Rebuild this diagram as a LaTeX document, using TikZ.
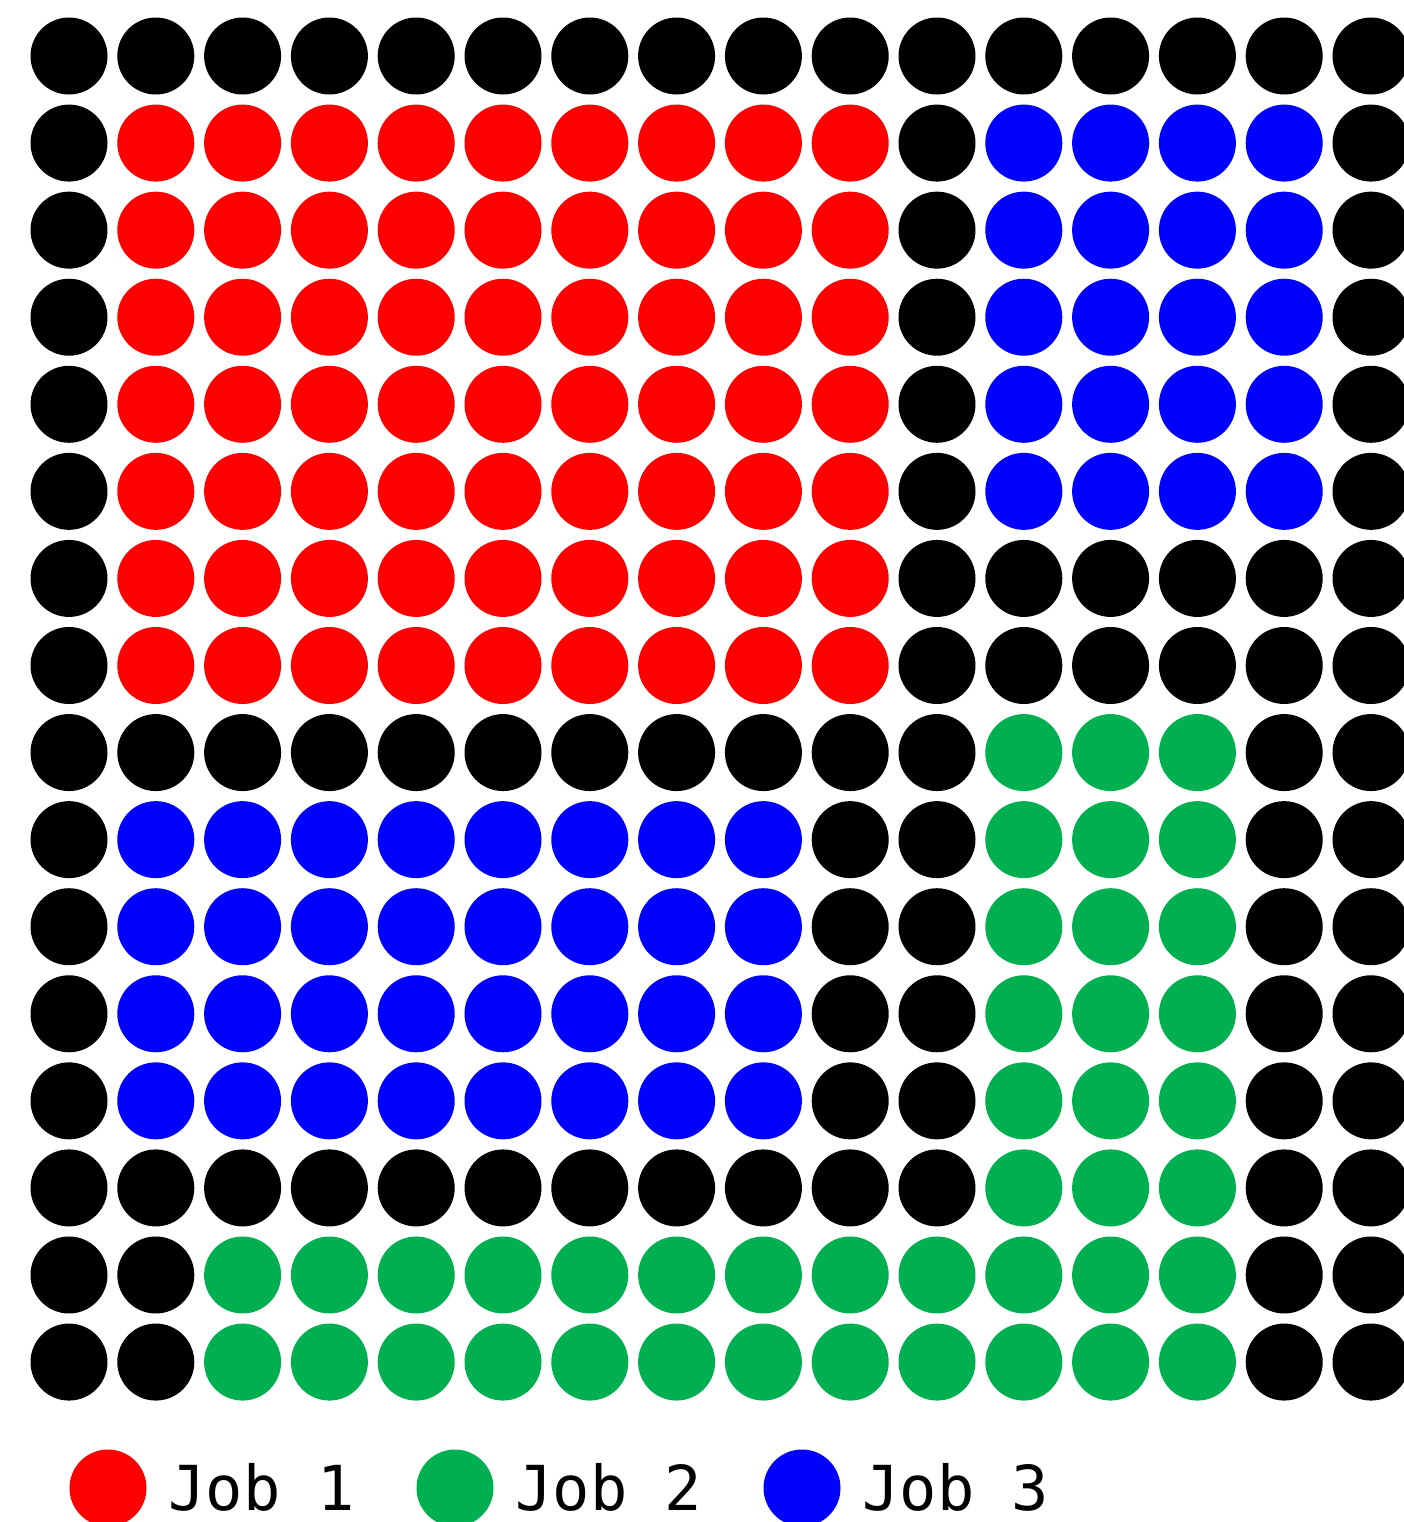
\documentclass[tikz,border=0pt]{standalone}
\usepackage{fontspec}
\setmonofont{DejaVu Sans Mono}
\definecolor{colK}{RGB}{0,0,0}
\definecolor{colR}{RGB}{255,0,0}
\definecolor{colB}{RGB}{0,0,255}
\definecolor{colG}{RGB}{0,176,80}
\tikzset{
  dot/.style={circle, minimum size=38.5pt, inner sep=0pt, draw=none},
  legtext/.style={anchor=base west, inner sep=0pt, font=\fontsize{31pt}{36pt}\selectfont\ttfamily}
}
\begin{document}
\begin{tikzpicture}[x=0.5pt,y=-0.5pt]
\useasboundingbox (0,0) rectangle (1404,1522);
\clip (0,0) rectangle (1404,1522);
\foreach \row [count=\j from 0] in {
 {K,K,K,K,K,K,K,K,K,K,K,K,K,K,K,K},
 {K,R,R,R,R,R,R,R,R,R,K,B,B,B,B,K},
 {K,R,R,R,R,R,R,R,R,R,K,B,B,B,B,K},
 {K,R,R,R,R,R,R,R,R,R,K,B,B,B,B,K},
 {K,R,R,R,R,R,R,R,R,R,K,B,B,B,B,K},
 {K,R,R,R,R,R,R,R,R,R,K,B,B,B,B,K},
 {K,R,R,R,R,R,R,R,R,R,K,K,K,K,K,K},
 {K,R,R,R,R,R,R,R,R,R,K,K,K,K,K,K},
 {K,K,K,K,K,K,K,K,K,K,K,G,G,G,K,K},
 {K,B,B,B,B,B,B,B,B,K,K,G,G,G,K,K},
 {K,B,B,B,B,B,B,B,B,K,K,G,G,G,K,K},
 {K,B,B,B,B,B,B,B,B,K,K,G,G,G,K,K},
 {K,B,B,B,B,B,B,B,B,K,K,G,G,G,K,K},
 {K,K,K,K,K,K,K,K,K,K,K,G,G,G,K,K},
 {K,K,G,G,G,G,G,G,G,G,G,G,G,G,K,K},
 {K,K,G,G,G,G,G,G,G,G,G,G,G,G,K,K}}{
  \foreach \c [count=\i from 0] in \row {
    \node[dot, fill=col\c] (c-\j-\i) at ({69+86.8*\i},{56+87.07*\j}) {};
  }
}
\node[dot, fill=colR] (l1) at (108,1488) {};
\node[legtext] (t1) at (168,1510) {Job 1};
\node[dot, fill=colG] (l2) at (455,1488) {};
\node[legtext] (t2) at (515,1510) {Job 2};
\node[dot, fill=colB] (l3) at (802,1488) {};
\node[legtext] (t3) at (862,1510) {Job 3};
\end{tikzpicture}
\end{document}
